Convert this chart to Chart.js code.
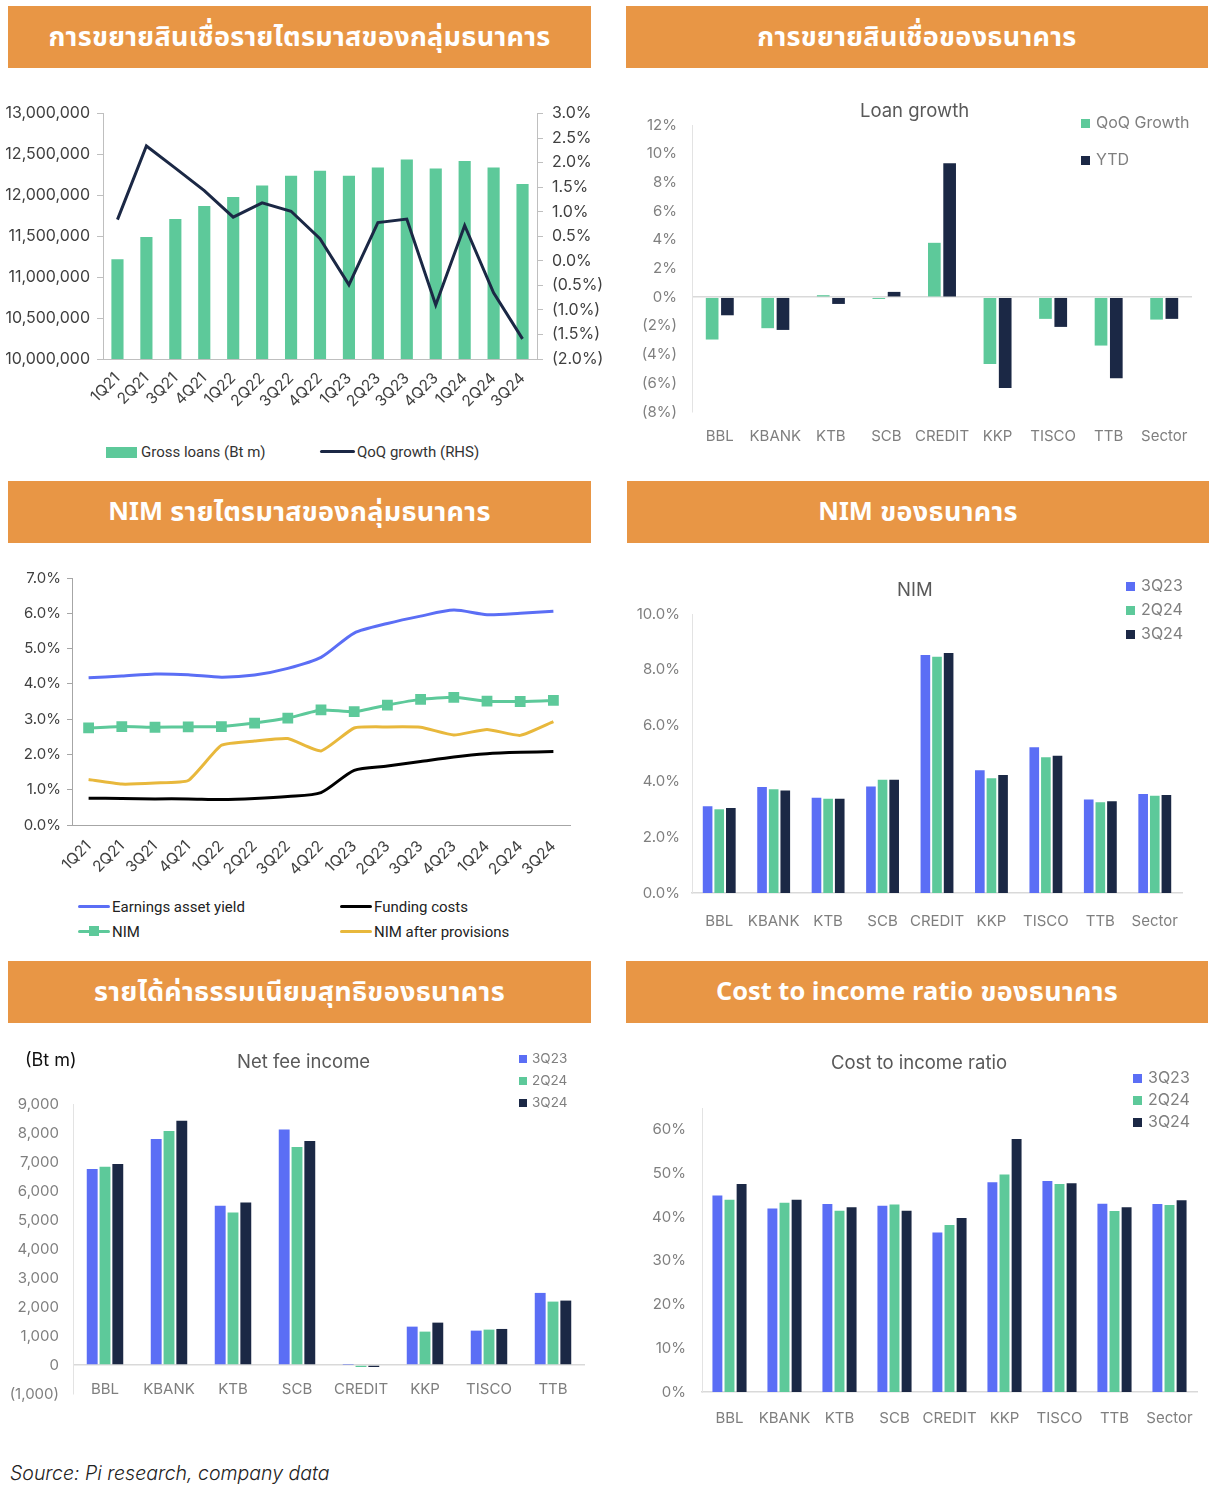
<!DOCTYPE html>
<html><head><meta charset="utf-8">
<script src="https://cdn.jsdelivr.net/npm/chart.js@4.4.1/dist/chart.umd.min.js"></script>
<style>
body{margin:0;background:#fff;width:1216px;height:1492px;position:relative;overflow:hidden;font-family:Inter,"Noto Sans",sans-serif}
.hdr{position:absolute;background:#E89645;color:#fff;font-weight:700;font-size:27px;display:flex;align-items:center;justify-content:center;font-family:"Noto Sans Thai","Noto Sans Thai Looped","Noto Sans",Inter,sans-serif;letter-spacing:0.3px;white-space:pre}
.lat{font-size:25.5px;letter-spacing:0}
.box{position:absolute}
.t{position:absolute;white-space:nowrap;line-height:1}
.sq{display:inline-block;width:9px;height:9px;margin-right:6px;vertical-align:0px}
.ln{display:inline-block;width:32px;height:3px;border-radius:2px;vertical-align:4px;margin-right:2px;position:relative}
</style></head><body>

<div class="hdr" style="left:8px;top:6px;width:583px;height:62px">การขยายสินเชื่อรายไตรมาสของกลุ่มธนาคาร</div>
<div class="hdr" style="left:626px;top:6px;width:582px;height:62px">การขยายสินเชื่อของธนาคาร</div>
<div class="hdr" style="left:8px;top:481px;width:583px;height:62px"><span class="lat">NIM</span> รายไตรมาสของกลุ่มธนาคาร</div>
<div class="hdr" style="left:627px;top:481px;width:582px;height:62px"><span class="lat">NIM</span> ของธนาคาร</div>
<div class="hdr" style="left:8px;top:961px;width:583px;height:62px">รายได้ค่าธรรมเนียมสุทธิของธนาคาร</div>
<div class="hdr" style="left:626px;top:961px;width:582px;height:62px"><span class="lat">Cost to income ratio</span> ของธนาคาร</div>

<div class="box" style="left:0;top:95px;width:610px;height:330px"><canvas id="c1"></canvas></div>
<div class="box" style="left:620px;top:95px;width:596px;height:365px"><canvas id="c2"></canvas></div>
<div class="box" style="left:0;top:560px;width:610px;height:320px"><canvas id="c3"></canvas></div>
<div class="box" style="left:620px;top:570px;width:596px;height:370px"><canvas id="c4"></canvas></div>
<div class="box" style="left:0;top:1040px;width:610px;height:377px"><canvas id="c5"></canvas></div>
<div class="box" style="left:620px;top:1040px;width:596px;height:400px"><canvas id="c6"></canvas></div>

<!-- chart 1 legend -->
<div class="t" style="left:106px;top:445px;font-size:15px;color:#333;font-family:Roboto,Inter,sans-serif"><span style="display:inline-block;width:31px;height:11px;background:#5DC99A;vertical-align:-1px;margin-right:4px"></span>Gross loans (Bt m)</div>
<div class="t" style="left:320px;top:445px;font-size:15px;color:#333;font-family:Roboto,Inter,sans-serif"><span class="ln" style="width:35px;background:#1B2845"></span>QoQ growth (RHS)</div>

<!-- chart 2 titles/legend -->
<div class="t" style="left:860px;top:101px;font-size:18.5px;color:#595959">Loan growth</div>
<div class="t" style="left:1081px;top:114px;font-size:16px;color:#7f7f7f"><span class="sq" style="background:#5DC99A"></span>QoQ Growth</div>
<div class="t" style="left:1081px;top:151px;font-size:16px;color:#7f7f7f"><span class="sq" style="background:#1B2845"></span>YTD</div>

<!-- chart 3 legend -->
<div class="t" style="left:78px;top:900px;font-size:15px;color:#222;font-family:Roboto,Inter,sans-serif"><span class="ln" style="background:#5B6EF5"></span>Earnings asset yield</div>
<div class="t" style="left:340px;top:900px;font-size:15px;color:#222;font-family:Roboto,Inter,sans-serif"><span class="ln" style="background:#000"></span>Funding costs</div>
<div class="t" style="left:78px;top:925px;font-size:15px;color:#222;font-family:Roboto,Inter,sans-serif"><span class="ln" style="background:#5DC99A"><span style="position:absolute;left:11px;top:-4px;width:10px;height:10px;background:#5DC99A"></span></span>NIM</div>
<div class="t" style="left:340px;top:925px;font-size:15px;color:#222;font-family:Roboto,Inter,sans-serif"><span class="ln" style="background:#E8B83C"></span>NIM after provisions</div>

<!-- chart 4 -->
<div class="t" style="left:897px;top:580px;font-size:18.5px;color:#595959">NIM</div>
<div class="t" style="left:1126px;top:577px;font-size:16px;color:#7f7f7f"><span class="sq" style="background:#5B6EF5"></span>3Q23</div>
<div class="t" style="left:1126px;top:601px;font-size:16px;color:#7f7f7f"><span class="sq" style="background:#5DC99A"></span>2Q24</div>
<div class="t" style="left:1126px;top:625px;font-size:16px;color:#7f7f7f"><span class="sq" style="background:#1B2845"></span>3Q24</div>

<!-- chart 5 -->
<div class="t" style="left:25px;top:1051px;font-size:18px;color:#111">(Bt m)</div>
<div class="t" style="left:237px;top:1052px;font-size:18.5px;color:#595959">Net fee income</div>
<div class="t" style="left:519px;top:1052px;font-size:13.5px;color:#7f7f7f"><span class="sq" style="background:#5B6EF5;width:8px;height:8px;margin-right:5px"></span>3Q23</div>
<div class="t" style="left:519px;top:1074px;font-size:13.5px;color:#7f7f7f"><span class="sq" style="background:#5DC99A;width:8px;height:8px;margin-right:5px"></span>2Q24</div>
<div class="t" style="left:519px;top:1096px;font-size:13.5px;color:#7f7f7f"><span class="sq" style="background:#1B2845;width:8px;height:8px;margin-right:5px"></span>3Q24</div>

<!-- chart 6 -->
<div class="t" style="left:831px;top:1053px;font-size:18.5px;color:#595959">Cost to income ratio</div>
<div class="t" style="left:1133px;top:1069px;font-size:16px;color:#7f7f7f"><span class="sq" style="background:#5B6EF5"></span>3Q23</div>
<div class="t" style="left:1133px;top:1091px;font-size:16px;color:#7f7f7f"><span class="sq" style="background:#5DC99A"></span>2Q24</div>
<div class="t" style="left:1133px;top:1113px;font-size:16px;color:#7f7f7f"><span class="sq" style="background:#1B2845"></span>3Q24</div>

<div class="t" style="left:10px;top:1464px;font-size:19.5px;color:#222;font-style:italic;font-weight:300">Source: Pi research, company data</div>

<script>
// ---------- DATA ----------
const quarters = ['1Q21','2Q21','3Q21','4Q21','1Q22','2Q22','3Q22','4Q22','1Q23','2Q23','3Q23','4Q23','1Q24','2Q24','3Q24'];
const grossLoans = [11220000,11490000,11710000,11870000,11980000,12120000,12240000,12300000,12240000,12340000,12440000,12330000,12420000,12340000,12140000];
const qoqGrowth = [0.84,2.34,1.89,1.43,0.89,1.18,1.01,0.45,-0.49,0.78,0.85,-0.90,0.72,-0.65,-1.59];

const banks = ['BBL','KBANK','KTB','SCB','CREDIT','KKP','TISCO','TTB','Sector'];
const loanQoQ = [-2.95,-2.16,0.14,-0.12,3.79,-4.65,-1.51,-3.37,-1.56];
const loanYTD = [-1.26,-2.28,-0.47,0.37,9.33,-6.33,-2.07,-5.65,-1.51];

const earningAssetYield = [4.17,4.22,4.28,4.26,4.19,4.25,4.44,4.75,5.44,5.71,5.92,6.09,5.96,6.00,6.06];
const nimQuarterly = [2.75,2.79,2.77,2.78,2.79,2.89,3.03,3.26,3.21,3.40,3.56,3.62,3.51,3.50,3.53];
const fundingCosts = [0.76,0.75,0.74,0.74,0.72,0.75,0.81,0.92,1.55,1.67,1.80,1.93,2.02,2.06,2.08];
const nimAfterProvisions = [1.29,1.16,1.19,1.26,2.26,2.38,2.45,2.10,2.75,2.78,2.77,2.55,2.71,2.54,2.93];

const nim3Q23 = [3.11,3.80,3.41,3.82,8.53,4.40,5.22,3.35,3.55];
const nim2Q24 = [3.00,3.72,3.38,4.06,8.47,4.11,4.87,3.25,3.49];
const nim3Q24 = [3.05,3.67,3.38,4.06,8.60,4.23,4.92,3.29,3.51];

const feeBanks = ['BBL','KBANK','KTB','SCB','CREDIT','KKP','TISCO','TTB'];
const fee3Q23 = [6755,7790,5489,8124,10,1323,1185,2486];
const fee2Q24 = [6835,8067,5259,7514,-70,1151,1220,2186];
const fee3Q24 = [6927,8424,5604,7722,-70,1461,1243,2221];

const cti3Q23 = [45.0,42.0,43.0,42.6,36.5,48.0,48.3,43.1,43.0];
const cti2Q24 = [44.0,43.3,41.5,42.9,38.2,49.8,47.6,41.4,42.8];
const cti3Q24 = [47.6,44.0,42.3,41.5,39.8,57.9,47.8,42.3,43.9];

// ---------- STYLE ----------
const BLUE='#5B6EF5', GREEN='#5DC99A', NAVY='#1B2845', GOLD='#E8B83C';
Chart.defaults.font.family = 'Inter, "Noto Sans", sans-serif';
Chart.defaults.animation = false;
Chart.defaults.plugins.legend.display = false;
Chart.defaults.plugins.tooltip.enabled = false;
Chart.defaults.responsive = true;
Chart.defaults.maintainAspectRatio = false;

const fitW = w => (s => { s.width = w; });
const fitH = h => (s => { s.height = h; });
const pctParen = d => v => v < 0 ? '(' + (-v).toFixed(d) + '%)' : v.toFixed(d) + '%';
const flatTicks = (size, pad) => ({ color:'#7f7f7f', font:{ size }, padding:pad, autoSkip:false, maxRotation:0, minRotation:0 });

// Chart 1
new Chart(document.getElementById('c1'), {
  data: { labels: quarters, datasets: [
    { type:'line', data: qoqGrowth, yAxisID:'y1', borderColor:NAVY, borderWidth:3, pointRadius:0, tension:0, order:0 },
    { type:'bar', data: grossLoans, yAxisID:'y', backgroundColor:GREEN, barPercentage:0.42, categoryPercentage:1, order:1 }
  ]},
  options: {
    layout:{ padding:{ top:17, left:0, right:0, bottom:0 } },
    scales: {
      x: { grid:{ display:false }, border:{ display:true, color:'#bfbfbf' },
           ticks:{ autoSkip:false, maxRotation:45, minRotation:45, color:'#404040', font:{ size:15.5 }, padding:2 }, afterFit: fitH(66) },
      y: { position:'left', min:10000000, max:13000000,
           ticks:{ stepSize:500000, color:'#404040', font:{ size:16 }, padding:7, callback: v => v.toLocaleString('en-US') },
           grid:{ drawOnChartArea:false, drawTicks:true, tickLength:6, color:'#bfbfbf' }, border:{ color:'#bfbfbf' }, afterFit: fitW(103) },
      y1: { position:'right', min:-2, max:3,
           ticks:{ stepSize:0.5, color:'#404040', font:{ size:16 }, padding:9, callback: pctParen(1) },
           grid:{ drawOnChartArea:false, drawTicks:true, tickLength:6, color:'#bfbfbf' }, border:{ color:'#bfbfbf' }, afterFit: fitW(73) }
    }
  }
});

// Chart 2
new Chart(document.getElementById('c2'), {
  type:'bar',
  data: { labels: banks, datasets: [
    { data: loanQoQ, backgroundColor:GREEN, barPercentage:0.83, categoryPercentage:0.55 },
    { data: loanYTD, backgroundColor:NAVY, barPercentage:0.83, categoryPercentage:0.55 }
  ]},
  options: {
    layout:{ padding:{ top:30, left:0, right:24, bottom:0 } },
    scales: {
      x: { grid:{ display:false }, border:{ display:false },
           ticks: flatTicks(15, 7), afterFit: fitH(48) },
      y: { min:-8, max:12,
           ticks:{ stepSize:2, color:'#7f7f7f', font:{ size:15 }, padding:15, callback: pctParen(0) },
           grid:{ drawTicks:false, color: c => c.tick && c.tick.value === 0 ? '#d9d9d9' : 'rgba(0,0,0,0)', lineWidth:1.5 },
           border:{ color:'#e3e3e3' }, afterFit: fitW(72) }
    }
  }
});

// Chart 3
new Chart(document.getElementById('c3'), {
  type:'line',
  data: { labels: quarters, datasets: [
    { data: earningAssetYield, borderColor:BLUE, borderWidth:3, pointRadius:0, tension:0.25 },
    { data: fundingCosts, borderColor:'#000', borderWidth:3, pointRadius:0, tension:0.25 },
    { data: nimAfterProvisions, borderColor:GOLD, borderWidth:3, pointRadius:0, tension:0.15 },
    { data: nimQuarterly, borderColor:GREEN, backgroundColor:GREEN, borderWidth:3, pointStyle:'rect', pointRadius:5.5, tension:0.15 }
  ]},
  options: {
    layout:{ padding:{ top:18, left:0, right:40, bottom:0 } },
    scales: {
      x: { offset:true, grid:{ display:false }, border:{ display:true, color:'#a6a6a6' },
           ticks:{ autoSkip:false, maxRotation:45, minRotation:45, color:'#404040', font:{ size:15.5 }, padding:4 }, afterFit: fitH(55) },
      y: { min:0, max:7,
           ticks:{ stepSize:1, color:'#404040', font:{ size:15 }, padding:6, callback: v => v.toFixed(1) + '%' },
           grid:{ drawOnChartArea:false, drawTicks:true, tickLength:5, color:'#a6a6a6' }, border:{ color:'#a6a6a6' }, afterFit: fitW(72) }
    }
  }
});

// Chart 4
new Chart(document.getElementById('c4'), {
  type:'bar',
  data: { labels: banks, datasets: [
    { data: nim3Q23, backgroundColor:BLUE, barPercentage:0.83, categoryPercentage:0.64 },
    { data: nim2Q24, backgroundColor:GREEN, barPercentage:0.83, categoryPercentage:0.64 },
    { data: nim3Q24, backgroundColor:NAVY, barPercentage:0.83, categoryPercentage:0.64 }
  ]},
  options: {
    layout:{ padding:{ top:44, left:0, right:34, bottom:0 } },
    scales: {
      x: { grid:{ display:false }, border:{ display:true, color:'#d9d9d9', width:1.5 },
           ticks: flatTicks(15, 11), afterFit: fitH(47) },
      y: { min:0, max:10,
           ticks:{ stepSize:2, color:'#7f7f7f', font:{ size:15 }, padding:4, callback: v => v.toFixed(1) + '%' },
           grid:{ display:false }, border:{ color:'#e3e3e3' }, afterFit: fitW(72) }
    }
  }
});

// Chart 5
new Chart(document.getElementById('c5'), {
  type:'bar',
  data: { labels: feeBanks, datasets: [
    { data: fee3Q23, backgroundColor:BLUE, barPercentage:0.85, categoryPercentage:0.6 },
    { data: fee2Q24, backgroundColor:GREEN, barPercentage:0.85, categoryPercentage:0.6 },
    { data: fee3Q24, backgroundColor:NAVY, barPercentage:0.85, categoryPercentage:0.6 }
  ]},
  options: {
    layout:{ padding:{ top:64, left:0, right:25, bottom:10 } },
    scales: {
      x: { position:{ y:-530 }, grid:{ display:false, drawTicks:false }, border:{ display:false },
           ticks: flatTicks(15, 0) },
      y: { min:-1000, max:9000,
           ticks:{ stepSize:1000, color:'#7f7f7f', font:{ size:15 }, padding:14,
                   callback: v => v < 0 ? '(' + (-v).toLocaleString('en-US') + ')' : v.toLocaleString('en-US') },
           grid:{ drawTicks:false, color: c => c.tick && c.tick.value === 0 ? '#d9d9d9' : 'rgba(0,0,0,0)', lineWidth:1.5 },
           border:{ color:'#e3e3e3' }, afterFit: fitW(73) }
    }
  }
});

// Chart 6
new Chart(document.getElementById('c6'), {
  type:'bar',
  data: { labels: banks, datasets: [
    { data: cti3Q23, backgroundColor:BLUE, barPercentage:0.82, categoryPercentage:0.66 },
    { data: cti2Q24, backgroundColor:GREEN, barPercentage:0.82, categoryPercentage:0.66 },
    { data: cti3Q24, backgroundColor:NAVY, barPercentage:0.82, categoryPercentage:0.66 }
  ]},
  options: {
    layout:{ padding:{ top:68, left:0, right:19, bottom:0 } },
    scales: {
      x: { grid:{ display:false }, border:{ display:true, color:'#d9d9d9', width:1.5 },
           ticks: flatTicks(15, 9), afterFit: fitH(48) },
      y: { min:0, max:65,
           afterBuildTicks: s => { s.ticks = s.ticks.filter(t => t.value % 10 === 0); },
           ticks:{ stepSize:10, color:'#7f7f7f', font:{ size:15 }, padding:8, callback: v => v + '%' },
           grid:{ display:false }, border:{ color:'#e3e3e3' }, afterFit: fitW(82) }
    }
  }
});
</script>
</body></html>
